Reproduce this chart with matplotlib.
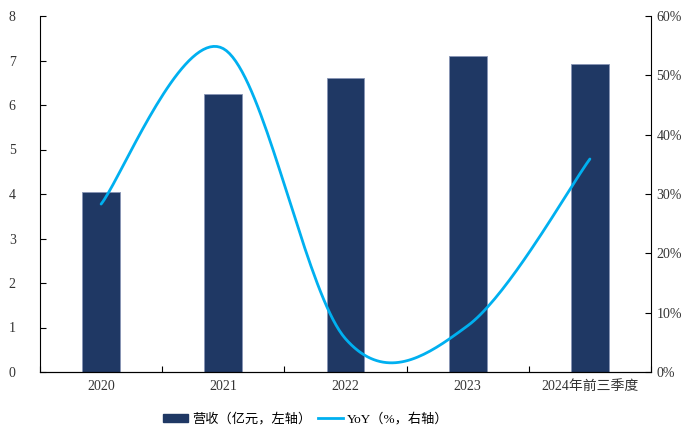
import numpy as np
import matplotlib
matplotlib.use("Agg")
import matplotlib.pyplot as plt
from matplotlib.lines import Line2D
from matplotlib.patches import Patch

plt.rcParams['font.family'] = ['Liberation Serif', 'Noto Sans CJK SC']

categories = ['2020', '2021', '2022', '2023', '2024年前三季度']
revenue = [4.04, 6.24, 6.61, 7.10, 6.92]     # 亿元, left axis
yoy = [28.3, 54.5, 5.6, 7.8, 35.9]           # %, right axis

bar_color = '#1F3864'
line_color = '#00B0F0'


def smooth(xs, ys, n=40):
    # Excel-like smoothed line: Catmull-Rom turned into cubic Bezier segments
    pts = np.column_stack([xs, ys]).astype(float)
    ext = np.vstack([pts[0], pts, pts[-1]])
    out = []
    t = np.linspace(0, 1, n)[:, None]
    for i in range(len(pts) - 1):
        p0, p1, p2, p3 = ext[i], ext[i + 1], ext[i + 2], ext[i + 3]
        c1 = p1 + (p2 - p0) / 6
        c2 = p2 - (p3 - p1) / 6
        seg = ((1 - t) ** 3) * p1 + 3 * ((1 - t) ** 2) * t * c1 + 3 * (1 - t) * t ** 2 * c2 + t ** 3 * p2
        out.append(seg if i == 0 else seg[1:])
    seg = np.vstack(out)
    return seg[:, 0], seg[:, 1]


fig = plt.figure(figsize=(6.84, 4.32), dpi=100)
ax = fig.add_axes([40 / 684, 1 - 372 / 432, 611 / 684, 356 / 432])
x = np.arange(len(categories))

ax.bar(x, revenue, width=0.31, color=bar_color, edgecolor='#8795B5', linewidth=0.6, zorder=2)
ax.set_xlim(-0.5, len(categories) - 0.5)
ax.set_ylim(0, 8)
ax.set_yticks(range(0, 9))
ax.set_xticks(x)
ax.set_xticklabels(categories)
ax.set_xticks(np.arange(-0.5, len(categories)), minor=True)
ax.tick_params(axis='x', which='major', length=0, pad=6, labelsize=10, labelcolor='#333333')
ax.tick_params(axis='x', which='minor', direction='in', length=4, width=0.8)
ax.tick_params(axis='y', direction='in', length=4, width=0.8, pad=20, labelsize=10, labelcolor='#333333')
for lbl in ax.get_yticklabels():
    lbl.set_horizontalalignment('center')
ax.spines['top'].set_visible(False)
ax.spines['right'].set_visible(False)

ax2 = ax.twinx()
sx, sy = smooth(x, yoy)
ax2.plot(sx, sy, color=line_color, linewidth=2.0, solid_capstyle='round', zorder=3)
ax2.set_ylim(0, 60)
ax2.set_yticks(range(0, 61, 10))
ax2.set_yticklabels([f'{v}%' for v in range(0, 61, 10)])
ax2.tick_params(axis='y', direction='in', length=4, width=0.8, pad=4, labelsize=10, labelcolor='#333333')
ax2.spines['top'].set_visible(False)
ax2.spines['left'].set_visible(False)

handles = [Patch(facecolor=bar_color, edgecolor=bar_color),
           Line2D([0], [0], color=line_color, linewidth=2)]
labels = ['营收（亿元，左轴）', 'YoY（%，右轴）']
fig.legend(handles, labels, loc='center left', bbox_to_anchor=(154 / 684, 1 - 419 / 432), ncol=2,
           frameon=False, fontsize=9.5, handlelength=1.9, handleheight=0.55,
           handletextpad=0.3, columnspacing=0.5, borderpad=0.2)

fig.savefig('out.png', dpi=100)
